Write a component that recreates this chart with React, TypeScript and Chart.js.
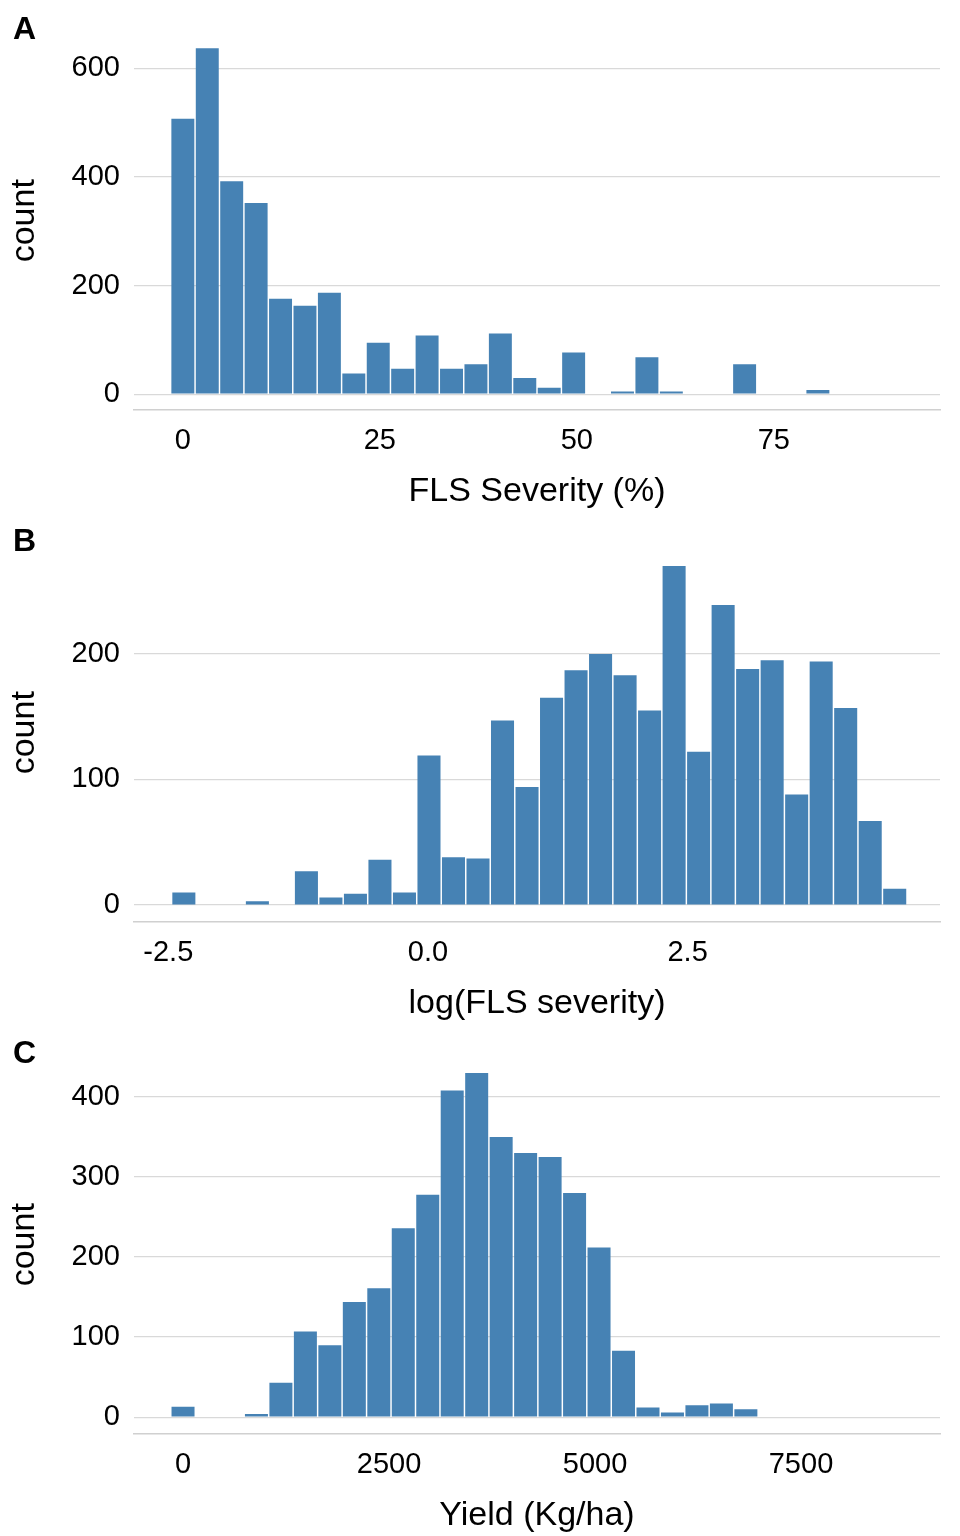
import { useEffect, useRef } from "react";
import Chart from "chart.js/auto";

// Panel A: FLS Severity (%), bins of ~3.1 starting at 0
const sevCenters = Array.from({ length: 30 }, (_, i) => i * 3.1);
const sevCounts = [507, 637, 392, 352, 176, 163, 187, 38, 95, 47, 108, 47, 55, 112, 30, 12, 77, 0, 5, 68, 5, 0, 0, 55, 0, 0, 8, 0, 0, 0];
const sevTicksX = [0, 25, 50, 75];
const sevTicksY = [0, 200, 400, 600];

// Panel B: log(FLS severity)
const logCenters = Array.from({ length: 30 }, (_, i) => -2.35 + i * 0.236);
const logCounts = [10, 0, 0, 3, 0, 27, 6, 9, 36, 10, 119, 38, 37, 147, 94, 165, 187, 200, 183, 155, 270, 122, 239, 188, 195, 88, 194, 157, 67, 13];
const logTicksX = [-2.5, 0, 2.5];
const logTicksY = [0, 100, 200];

// Panel C: Yield (Kg/ha)
const yieldCenters = Array.from({ length: 30 }, (_, i) => i * 297);
const yieldCounts = [13, 0, 0, 4, 43, 107, 90, 144, 161, 236, 278, 408, 430, 350, 330, 325, 280, 212, 83, 12, 6, 15, 17, 10, 0, 0, 0, 0, 0, 0];
const yieldTicksX = [0, 2500, 5000, 7500];
const yieldTicksY = [0, 100, 200, 300, 400];

const FONT = "'Liberation Sans', Arial, sans-serif";

type PanelProps = {
  label: string;
  centers: number[];
  counts: number[];
  ticksX: number[];
  ticksY: number[];
  xMin: number;
  xMax: number;
  yMin: number;
  yMax: number;
  xTitle: string;
  fmt: (v: number) => string;
};

function Panel(p: PanelProps) {
  const ref = useRef<HTMLCanvasElement>(null);
  useEffect(() => {
    if (!ref.current) return;
    const chart = new Chart(ref.current, {
      type: "bar",
      data: {
        datasets: [
          {
            data: p.centers.map((x, i) => ({ x, y: p.counts[i] })),
            backgroundColor: "#4682b4",
            barPercentage: 0.94,
            categoryPercentage: 1,
          },
        ],
      },
      options: {
        animation: false,
        responsive: false,
        layout: { padding: { top: 18, right: 20, left: 0 } },
        plugins: { legend: { display: false }, tooltip: { enabled: false } },
        scales: {
          x: {
            type: "linear",
            offset: false,
            min: p.xMin,
            max: p.xMax,
            afterBuildTicks: (s: any) => {
              s.ticks = p.ticksX.map((v) => ({ value: v }));
            },
            afterFit: (s: any) => {
              s.height = 102;
            },
            grid: { display: false },
            border: { display: true, color: "#d0d0d0", width: 1.5 },
            ticks: {
              color: "#000",
              font: { family: FONT, size: 29 },
              padding: 6,
              callback: (v: any) => p.fmt(Number(v)),
            },
            title: { display: true, text: p.xTitle, color: "#000", font: { family: FONT, size: 34 }, padding: { top: 0, bottom: 0 } },
          },
          y: {
            min: p.yMin,
            max: p.yMax,
            afterBuildTicks: (s: any) => {
              s.ticks = p.ticksY.map((v) => ({ value: v }));
            },
            afterFit: (s: any) => {
              s.width = 134;
            },
            grid: { color: "#d9d9d9", lineWidth: 1.3, drawTicks: false },
            border: { display: false },
            ticks: { color: "#000", font: { family: FONT, size: 29 }, padding: 14 },
            title: { display: true, text: "count", color: "#000", font: { family: FONT, size: 34 }, padding: { bottom: 4 } },
          },
        },
      },
    });
    return () => chart.destroy();
  }, []);
  return (
    <div style={{ position: "relative", width: 960, height: 512 }}>
      <canvas ref={ref} width={960} height={512} />
      <div style={{ position: "absolute", left: 13, top: 10, fontFamily: FONT, fontWeight: "bold", fontSize: 32 }}>{p.label}</div>
    </div>
  );
}

export default function App() {
  useEffect(() => {
    document.body.style.margin = "0";
  }, []);
  return (
    <div style={{ background: "#fff", width: 960 }}>
      <Panel label="A" centers={sevCenters} counts={sevCounts} ticksX={sevTicksX} ticksY={sevTicksY}
        xMin={-6.2} xMax={96.1} yMin={-29} yMax={668} xTitle="FLS Severity (%)" fmt={(v) => String(v)} />
      <Panel label="B" centers={logCenters} counts={logCounts} ticksX={logTicksX} ticksY={logTicksY}
        xMin={-2.83} xMax={4.93} yMin={-13.5} yMax={288} xTitle="log(FLS severity)" fmt={(v) => v.toFixed(1)} />
      <Panel label="C" centers={yieldCenters} counts={yieldCounts} ticksX={yieldTicksX} ticksY={yieldTicksY}
        xMin={-595} xMax={9187} yMin={-21} yMax={452} xTitle="Yield (Kg/ha)" fmt={(v) => String(v)} />
    </div>
  );
}
